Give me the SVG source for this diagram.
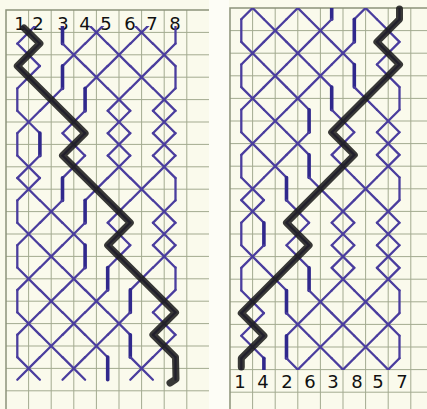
<svg xmlns="http://www.w3.org/2000/svg" width="427" height="409" viewBox="0 0 427 409">
<defs>
<style>
.grid{stroke:#a3aa90;stroke-width:1;fill:none}
.border{stroke:#8c937a;stroke-width:1.5;fill:none}
.s{stroke:#4a3d9e;stroke-width:2.3;fill:none;stroke-linecap:round}
.t{stroke:#30288c;stroke-width:3.6}
.blk{stroke:#1c1c1c;stroke-opacity:.88;stroke-width:7;fill:none;stroke-linecap:round;stroke-linejoin:round}
.lbl{font-family:"DejaVu Sans","Liberation Sans",sans-serif;font-size:18px;fill:#111;text-anchor:middle}
</style>
<path id="x" d="M-11.3,-11.3L11.3,11.3M11.3,-11.3L-11.3,11.3"/>
<path id="v" d="M0,-11.3V11.3"/>
<clipPath id="cl"><rect x="0" y="26" width="212" height="357"/></clipPath>
<clipPath id="cr"><rect x="228" y="8" width="199" height="362"/></clipPath>
</defs>
<rect width="427" height="409" fill="#fafaec"/>
<rect x="209" y="0" width="20" height="409" fill="#fdfdf6"/>
<g id="paper-left">
<path class="grid" d="M28.6,10V409M51.2,10V409M73.8,10V409M96.4,10V409M119,10V409M141.6,10V409M164.2,10V409M186.8,10V409M6,32.4H209M6,54.8H209M6,77.2H209M6,99.6H209M6,122H209M6,144.4H209M6,166.8H209M6,189.2H209M6,211.6H209M6,234H209M6,256.4H209M6,278.8H209M6,301.2H209M6,323.6H209M6,346H209M6,368.4H209M6,390.8H209"/>
<path class="border" d="M6,409V10H209"/>
</g>
<g id="paper-right">
<path class="grid" d="M252.6,8V409M275.2,8V409M297.8,8V409M320.4,8V409M343,8V409M365.6,8V409M388.2,8V409M410.8,8V409M230,30.6H427M230,53.2H427M230,75.8H427M230,98.4H427M230,121H427M230,143.6H427M230,166.2H427M230,188.8H427M230,211.4H427M230,234H427M230,256.6H427M230,279.2H427M230,301.8H427M230,324.4H427M230,347H427M230,369.6H427M230,392.2H427"/>
<path class="border" d="M230,409V8H427"/>
</g>
<g id="labels-top">
<text class="lbl" x="20" y="30">1</text><text class="lbl" x="38" y="30">2</text><text class="lbl" x="63" y="30">3</text><text class="lbl" x="85" y="30">4</text><text class="lbl" x="106" y="30">5</text><text class="lbl" x="130" y="30">6</text><text class="lbl" x="152" y="30">7</text><text class="lbl" x="175" y="30">8</text>
</g>
<g id="labels-bottom">
<text class="lbl" x="240" y="388">1</text><text class="lbl" x="263" y="388">4</text><text class="lbl" x="287" y="388">2</text><text class="lbl" x="310" y="388">6</text><text class="lbl" x="333" y="388">3</text><text class="lbl" x="357" y="388">8</text><text class="lbl" x="378" y="388">5</text><text class="lbl" x="402" y="388">7</text>
</g>
<g id="connectors">
<g id="strands-left" class="s" clip-path="url(#cl)">
<g transform="translate(0,32.4)"><use href="#x" x="28.6"/><use href="#x" x="96.4"/><use href="#x" x="141.6"/><use href="#v" class="t" x="62.5"/><use href="#v" x="175.5"/></g>
<g transform="translate(0,54.8)"><use href="#x" x="28.6"/><use href="#x" x="73.8"/><use href="#x" x="119"/><use href="#x" x="164.2"/></g>
<g transform="translate(0,77.2)"><use href="#x" x="28.6"/><use href="#x" x="96.4"/><use href="#x" x="141.6"/><use href="#v" class="t" x="62.5"/><use href="#v" x="175.5"/></g>
<g transform="translate(0,99.6)"><use href="#x" x="51.2"/><use href="#x" x="119"/><use href="#x" x="164.2"/><use href="#v" x="17.3"/><use href="#v" class="t" x="85.1"/></g>
<g transform="translate(0,122)"><use href="#x" x="28.6"/><use href="#x" x="73.8"/><use href="#x" x="119"/><use href="#x" x="164.2"/></g>
<g transform="translate(0,144.4)"><use href="#x" x="73.8"/><use href="#x" x="119"/><use href="#x" x="164.2"/><use href="#v" x="17.3"/><use href="#v" class="t" x="39.9"/></g>
<g transform="translate(0,166.8)"><use href="#x" x="28.6"/><use href="#x" x="73.8"/><use href="#x" x="119"/><use href="#x" x="164.2"/></g>
<g transform="translate(0,189.2)"><use href="#x" x="28.6"/><use href="#x" x="96.4"/><use href="#x" x="141.6"/><use href="#v" class="t" x="62.5"/><use href="#v" x="175.5"/></g>
<g transform="translate(0,211.6)"><use href="#x" x="51.2"/><use href="#x" x="119"/><use href="#x" x="164.2"/><use href="#v" x="17.3"/><use href="#v" class="t" x="85.1"/></g>
<g transform="translate(0,234)"><use href="#x" x="28.6"/><use href="#x" x="73.8"/><use href="#x" x="119"/><use href="#x" x="164.2"/></g>
<g transform="translate(0,256.4)"><use href="#x" x="51.2"/><use href="#x" x="119"/><use href="#x" x="164.2"/><use href="#v" x="17.3"/><use href="#v" class="t" x="85.1"/></g>
<g transform="translate(0,278.8)"><use href="#x" x="28.6"/><use href="#x" x="73.8"/><use href="#x" x="141.6"/><use href="#v" class="t" x="107.7"/><use href="#v" x="175.5"/></g>
<g transform="translate(0,301.2)"><use href="#x" x="51.2"/><use href="#x" x="96.4"/><use href="#x" x="164.2"/><use href="#v" x="17.3"/><use href="#v" class="t" x="130.3"/></g>
<g transform="translate(0,323.6)"><use href="#x" x="28.6"/><use href="#x" x="73.8"/><use href="#x" x="119"/><use href="#x" x="164.2"/></g>
<g transform="translate(0,346)"><use href="#x" x="51.2"/><use href="#x" x="96.4"/><use href="#x" x="164.2"/><use href="#v" x="17.3"/><use href="#v" class="t" x="130.3"/></g>
<g transform="translate(0,368.4)"><use href="#x" x="28.6"/><use href="#x" x="73.8"/><use href="#x" x="141.6"/><use href="#v" class="t" x="107.7"/><use href="#v" x="175.5"/></g>
</g>
<g id="strands-right" class="s" clip-path="url(#cr)">
<g transform="translate(0,8)"><use href="#x" x="252.6"/><use href="#x" x="297.8"/><use href="#x" x="365.6"/><use href="#v" class="t" x="331.7"/><use href="#v" x="399.5"/></g>
<g transform="translate(0,30.6)"><use href="#x" x="275.2"/><use href="#x" x="320.4"/><use href="#x" x="388.2"/><use href="#v" x="241.3"/><use href="#v" class="t" x="354.3"/></g>
<g transform="translate(0,53.2)"><use href="#x" x="252.6"/><use href="#x" x="297.8"/><use href="#x" x="343"/><use href="#x" x="388.2"/></g>
<g transform="translate(0,75.8)"><use href="#x" x="275.2"/><use href="#x" x="320.4"/><use href="#x" x="388.2"/><use href="#v" x="241.3"/><use href="#v" class="t" x="354.3"/></g>
<g transform="translate(0,98.4)"><use href="#x" x="252.6"/><use href="#x" x="297.8"/><use href="#x" x="365.6"/><use href="#v" class="t" x="331.7"/><use href="#v" x="399.5"/></g>
<g transform="translate(0,121)"><use href="#x" x="275.2"/><use href="#x" x="343"/><use href="#x" x="388.2"/><use href="#v" x="241.3"/><use href="#v" class="t" x="309.1"/></g>
<g transform="translate(0,143.6)"><use href="#x" x="252.6"/><use href="#x" x="297.8"/><use href="#x" x="343"/><use href="#x" x="388.2"/></g>
<g transform="translate(0,166.2)"><use href="#x" x="275.2"/><use href="#x" x="343"/><use href="#x" x="388.2"/><use href="#v" x="241.3"/><use href="#v" class="t" x="309.1"/></g>
<g transform="translate(0,188.8)"><use href="#x" x="252.6"/><use href="#x" x="320.4"/><use href="#x" x="365.6"/><use href="#v" class="t" x="286.5"/><use href="#v" x="399.5"/></g>
<g transform="translate(0,211.4)"><use href="#x" x="252.6"/><use href="#x" x="297.8"/><use href="#x" x="343"/><use href="#x" x="388.2"/></g>
<g transform="translate(0,234)"><use href="#x" x="297.8"/><use href="#x" x="343"/><use href="#x" x="388.2"/><use href="#v" x="241.3"/><use href="#v" class="t" x="263.9"/></g>
<g transform="translate(0,256.6)"><use href="#x" x="252.6"/><use href="#x" x="297.8"/><use href="#x" x="343"/><use href="#x" x="388.2"/></g>
<g transform="translate(0,279.2)"><use href="#x" x="275.2"/><use href="#x" x="343"/><use href="#x" x="388.2"/><use href="#v" x="241.3"/><use href="#v" class="t" x="309.1"/></g>
<g transform="translate(0,301.8)"><use href="#x" x="252.6"/><use href="#x" x="320.4"/><use href="#x" x="365.6"/><use href="#v" class="t" x="286.5"/><use href="#v" x="399.5"/></g>
<g transform="translate(0,324.4)"><use href="#x" x="252.6"/><use href="#x" x="297.8"/><use href="#x" x="343"/><use href="#x" x="388.2"/></g>
<g transform="translate(0,347)"><use href="#x" x="252.6"/><use href="#x" x="320.4"/><use href="#x" x="365.6"/><use href="#v" class="t" x="286.5"/><use href="#v" x="399.5"/></g>
<g transform="translate(0,369.6)"><use href="#x" x="297.8"/><use href="#x" x="343"/><use href="#x" x="388.2"/><use href="#v" x="241.3"/><use href="#v" class="t" x="263.9"/></g>
</g>
<path id="path-black-left" class="blk" d="M24,28L39.9,43.6L17.3,66L85.1,133.2L62.5,155.6L130.3,222.8L107.7,245.2L175.5,312.4L152.9,334.8L175.5,357.2L176,379L170,383"/>
<path id="path-black-right" class="blk" d="M399.5,9L399.5,19.3L376.9,41.9L399.5,64.5L331.7,132.3L354.3,154.9L286.5,222.7L309.1,245.3L241.3,313.1L263.9,335.7L241.3,358.3L241.3,367"/>
</g>
</svg>
